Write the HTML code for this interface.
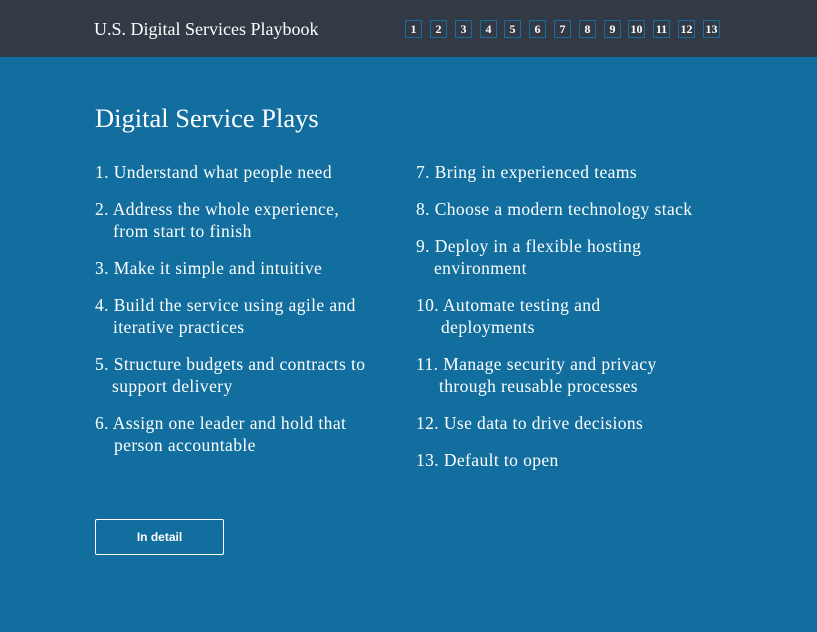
<!DOCTYPE html>
<html><head><meta charset="utf-8"><style>
*{margin:0;padding:0;box-sizing:border-box}
body{width:817px;height:632px;background:#126e9e;font-family:"Liberation Serif",serif;color:#fff;position:relative;overflow:hidden}
.hdr{position:absolute;left:0;top:0;width:817px;height:57px;background:#323a45}
.brand{position:absolute;left:94px;top:19px;font-size:18px}
.nb{position:absolute;top:20px;width:17px;height:18px;border:1px solid #1a6c9c;font-size:12px;font-weight:bold;text-align:center;line-height:16px}
h1{position:absolute;left:95px;top:103px;font-size:26.5px;font-weight:normal}
.it{position:absolute;font-size:17.5px;letter-spacing:0.4px;line-height:22px;white-space:nowrap;top:calc(var(--t) - 1px)}
.it span{display:block;padding-left:var(--p)}
.btn{position:absolute;left:95px;top:519px;width:129px;height:36px;border:1px solid #fff;border-radius:2px;font-family:"Liberation Sans",sans-serif;font-weight:bold;font-size:12px;text-align:center;line-height:34px}
</style></head><body>
<div class="hdr"><div class="brand">U.S. Digital Services Playbook</div>
<div class="nb" style="left:405px">1</div><div class="nb" style="left:430px">2</div><div class="nb" style="left:455px">3</div><div class="nb" style="left:480px">4</div><div class="nb" style="left:504px">5</div><div class="nb" style="left:529px">6</div><div class="nb" style="left:554px">7</div><div class="nb" style="left:579px">8</div><div class="nb" style="left:604px">9</div><div class="nb" style="left:628px">10</div><div class="nb" style="left:653px">11</div><div class="nb" style="left:678px">12</div><div class="nb" style="left:703px">13</div>
</div>
<h1>Digital Service Plays</h1>
<div class="it" style="left:95px;--t:162px">1. Understand what people need</div>
<div class="it" style="left:95px;--t:199px">2. Address the whole experience,<span style="--p:18px">from start to finish</span></div>
<div class="it" style="left:95px;--t:258px">3. Make it simple and intuitive</div>
<div class="it" style="left:95px;--t:295px">4. Build the service using agile and<span style="--p:18px">iterative practices</span></div>
<div class="it" style="left:95px;--t:354px">5. Structure budgets and contracts to<span style="--p:17px">support delivery</span></div>
<div class="it" style="left:95px;--t:413px">6. Assign one leader and hold that<span style="--p:19px">person accountable</span></div>
<div class="it" style="left:416px;--t:162px">7. Bring in experienced teams</div>
<div class="it" style="left:416px;--t:199px">8. Choose a modern technology stack</div>
<div class="it" style="left:416px;--t:236px">9. Deploy in a flexible hosting<span style="--p:18px">environment</span></div>
<div class="it" style="left:416px;--t:295px">10. Automate testing and<span style="--p:25px">deployments</span></div>
<div class="it" style="left:416px;--t:354px">11. Manage security and privacy<span style="--p:23px">through reusable processes</span></div>
<div class="it" style="left:416px;--t:413px">12. Use data to drive decisions</div>
<div class="it" style="left:416px;--t:450px">13. Default to open</div>
<div class="btn">In detail</div>
</body></html>
